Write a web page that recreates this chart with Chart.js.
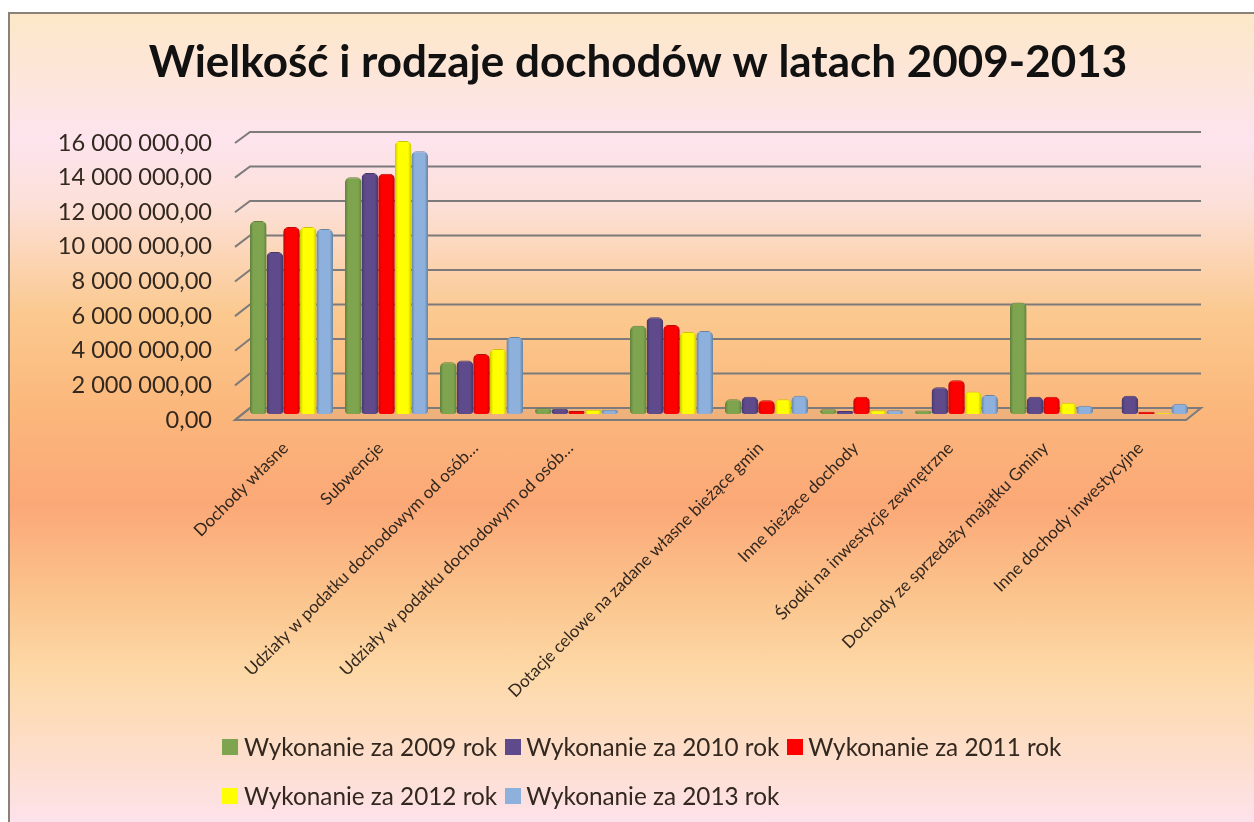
<!DOCTYPE html>
<html>
<head>
<meta charset="utf-8">
<script src="https://cdn.jsdelivr.net/npm/chart.js@4"></script>
<style>
html, body { margin: 0; padding: 0; background: #fff; }
#frame {
    position: absolute; left: 8px; top: 12px; width: 1246px; height: 810px;
    border-left: 2px solid #8a8178; border-top: 2px solid #8a8178; box-sizing: border-box;
    background: linear-gradient(to bottom, #fce8c8 0px, #fde6d6 50px, #fde4ee 125px, #fce0d8 190px, #fbc98f 300px, #fbb87c 390px, #fba877 490px, #fbc68f 590px, #fdd9a8 660px, #fde0d8 770px, #fde2ec 810px);
}
#chartBox { position: absolute; left: 0; top: 0; width: 1254px; height: 822px; }
#legendBox { position: absolute; left: 222px; top: 722px; width: 860px; font-family: Lato, sans-serif; font-size: 24.3px; color: #33281f; }
.row { display: flex; align-items: center; height: 49px; }
.swatch { width: 16px; height: 16px; margin-right: 5px; margin-left: 8px; }
.row .swatch:first-child { margin-left: 0; margin-right: 6px; }
</style>
</head>
<body>
<div id="frame"></div>
<div id="chartBox"><canvas id="dochodyChart" width="1254" height="822"></canvas></div>
<div id="legendBox"></div>
<script>
var categories = ["Dochody własne", "Subwencje", "Udziały w podatku dochodowym od osób…", "Udziały w podatku dochodowym od osób…",
    "", "Dotacje celowe na zadane własne bieżące gmin", "Inne bieżące dochody",
    "Środki na inwestycje zewnętrzne", "Dochody ze sprzedaży majątku Gminy", "Inne dochody inwestycyjne"];
var seriesNames = ["Wykonanie za 2009 rok", "Wykonanie za 2010 rok", "Wykonanie za 2011 rok", "Wykonanie za 2012 rok", "Wykonanie za 2013 rok"];
var values2009 = [11170000, 13700000, 3000000, 330000, 5100000, 850000, 280000, 200000, 6450000, 0];
var values2010 = [9370000, 13950000, 3100000, 300000, 5600000, 1000000, 180000, 1550000, 1000000, 1050000];
var values2011 = [10820000, 13900000, 3470000, 170000, 5150000, 800000, 1000000, 1950000, 1000000, 130000];
var values2012 = [10820000, 15800000, 3760000, 250000, 4750000, 850000, 220000, 1300000, 650000, 70000];
var values2013 = [10700000, 15200000, 4450000, 250000, 4800000, 1050000, 220000, 1100000, 480000, 600000];
var yTicks = [0, 2000000, 4000000, 6000000, 8000000, 10000000, 12000000, 14000000, 16000000];
var fillColors = ["#7fa44f", "#5f4a8b", "#ff0000", "#ffff00", "#8db0dc"];
var edgeColors = ["#5f7f3c", "#463768", "#b80d0d", "#c9c400", "#66839f"];

function FormatTick(value) {
    var whole = String(value).replace(/\B(?=(\d{3})+(?!\d))/g, " ");
    return whole + ",00";
}

// the 3D wall and floor: lines follow the hidden wall axis and the visible front axis
var wallPlugin = {
    id: "wall",
    beforeDatasetsDraw: function (chart) {
        var ctx = chart.ctx;
        var front = chart.scales.y;
        var wall = chart.scales.yWall;
        var left = chart.chartArea.left;
        var right = chart.chartArea.right;
        ctx.save();
        ctx.strokeStyle = "#7d7a7c";
        ctx.lineWidth = 2;
        yTicks.forEach(function (v) {
            var yb = wall.getPixelForValue(v);
            var yf = front.getPixelForValue(v);
            ctx.beginPath();
            ctx.moveTo(left - 9, yf);
            ctx.lineTo(left + 6, yb);
            if (v > 0) {
                ctx.lineTo(right + 7, yb);
            }
            ctx.stroke();
        });
        var y0 = wall.getPixelForValue(0);
        var f0 = front.getPixelForValue(0);
        ctx.beginPath();
        ctx.moveTo(left - 9, f0);
        ctx.lineTo(left + 6, y0);
        ctx.lineTo(right + 7, y0);
        ctx.lineTo(right - 8, f0);
        ctx.closePath();
        ctx.fillStyle = "rgba(190,160,130,0.2)";
        ctx.fill();
        ctx.stroke();
        ctx.restore();
    },
    // round shading across each bar, like the cylinders of the original
    beforeDatasetDraw: function (chart, args) {
        var ctx = chart.ctx;
        var i = args.index;
        args.meta.data.forEach(function (bar) {
            var half = bar.width / 2;
            var grad = ctx.createLinearGradient(bar.x - half, 0, bar.x + half, 0);
            grad.addColorStop(0, edgeColors[i]);
            grad.addColorStop(0.2, fillColors[i]);
            grad.addColorStop(0.8, fillColors[i]);
            grad.addColorStop(1, edgeColors[i]);
            bar.options = Object.assign({}, bar.options, { backgroundColor: grad });
        });
    }
};

var datasets = [values2009, values2010, values2011, values2012, values2013].map(function (vals, i) {
    return {
        label: seriesNames[i],
        data: vals,
        yAxisID: "yBars",
        backgroundColor: fillColors[i],
        borderColor: edgeColors[i],
        borderWidth: { top: 1, left: 0, right: 0, bottom: 0 },
        borderRadius: { topLeft: 5, topRight: 5, bottomLeft: 3, bottomRight: 3 },
        borderSkipped: false,
        barPercentage: 1,
        categoryPercentage: 0.874
    };
});

new Chart(document.getElementById("dochodyChart").getContext("2d"), {
    type: "bar",
    data: { labels: categories, datasets: datasets },
    plugins: [wallPlugin],
    options: {
        responsive: false,
        animation: false,
        layout: { padding: { left: 22, right: 0, top: 36, bottom: 0 } },
        plugins: {
            legend: { display: false },
            tooltip: { enabled: false },
            title: {
                display: true,
                text: "Wielkość i rodzaje dochodów w latach 2009-2013",
                color: "#111",
                font: { family: "Lato", size: 44, weight: "bold" },
                padding: { top: 0, bottom: 43.2 }
            }
        },
        scales: {
            x: {
                grid: { display: false },
                border: { display: false },
                afterFit: function (scale) { scale.height = 402; },
                ticks: {
                    autoSkip: false,
                    minRotation: 45,
                    maxRotation: 45,
                    padding: 10,
                    labelOffset: -6,
                    color: "#33281f",
                    font: { family: "Lato", size: 17 }
                }
            },
            y: {
                position: "left",
                min: 0,
                max: 16635000,
                grid: { display: false, drawTicks: false },
                border: { display: false },
                afterFit: function (scale) { scale.width = 222; },
                afterBuildTicks: function (scale) {
                    scale.ticks = yTicks.map(function (v) { return { value: v }; });
                },
                ticks: {
                    padding: 32,
                    color: "#33281f",
                    font: { family: "Lato", size: 23.6 },
                    callback: FormatTick
                }
            },
            yRight: {
                position: "right",
                grid: { display: false, drawTicks: false },
                border: { display: false },
                ticks: { display: false },
                afterFit: function (scale) { scale.width = 60; }
            },
            yBars: { display: false, position: "left", min: -347000, max: 16318000 },
            yWall: { display: false, position: "left", min: -696000, max: 16000000 }
        }
    }
});

var legendBox = document.getElementById("legendBox");
[[0, 1, 2], [3, 4]].forEach(function (rowItems) {
    var row = document.createElement("div");
    row.className = "row";
    rowItems.forEach(function (i) {
        var swatch = document.createElement("span");
        swatch.className = "swatch";
        swatch.style.background = fillColors[i];
        var text = document.createElement("span");
        text.textContent = seriesNames[i];
        row.appendChild(swatch);
        row.appendChild(text);
    });
    legendBox.appendChild(row);
});
</script>
</body>
</html>
